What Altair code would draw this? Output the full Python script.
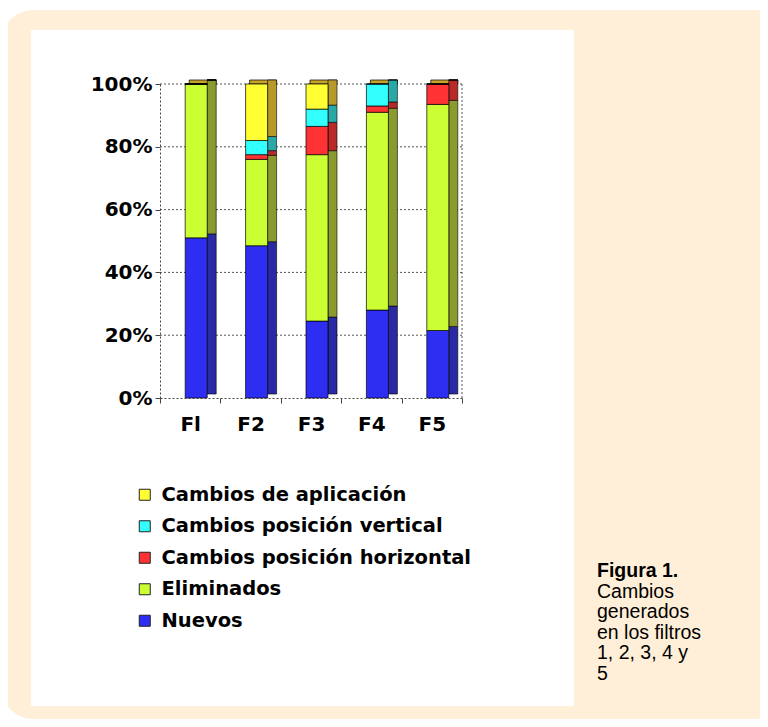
import altair as alt
import pandas as pd

# ---------------- data ----------------
filtros = ["Fl", "F2", "F3", "F4", "F5"]
# stack order, bottom -> top
series = ["Nuevos", "Eliminados", "Cambios posición horizontal",
          "Cambios posición vertical", "Cambios de aplicación"]
nuevos = [51, 48.5, 24.5, 28, 21.5]
eliminados = [49, 27.5, 53, 63, 72]
horizontal = [0, 1.5, 9, 2, 6.5]
vertical = [0, 4.5, 5.5, 7, 0]
aplicacion = [0, 18, 8, 0, 0]

front_colors = ["#2e2ef2", "#ccff33", "#ff3333", "#33ffff", "#ffff33"]
side_colors = ["#2a2aa4", "#8a9a2e", "#b82a2a", "#2aa8a8", "#b89a2a"]
cap_color = "#c9a42c"

y_ticks = [0, 20, 40, 60, 80, 100]
grid_values = [20, 40, 60, 80, 100]

caption_title = "Figura 1."
caption_lines = ["Cambios", "generados", "en los filtros", "1, 2, 3, 4 y", "5"]

# ---------------- tables ----------------
values_by_series = [nuevos, eliminados, horizontal, vertical, aplicacion]
rows = []
for i, f in enumerate(filtros):
    for j, s in enumerate(series):
        rows.append({"filtro": f, "serie": s, "ord": j,
                     "valor": values_by_series[j][i], "lado": side_colors[j]})
df = pd.DataFrame(rows)
totals = pd.DataFrame({"filtro": filtros,
                       "total": [sum(v[i] for v in values_by_series) for i in range(len(filtros))]})
grid_df = pd.DataFrame({"v": grid_values})

legend_order = series[::-1]
legend_colors = front_colors[::-1]

W, H = 302, 314
FONT = "DejaVu Sans"

x_scale = alt.Scale(domain=filtros, paddingInner=0, paddingOuter=0)
y_scale = alt.Scale(domain=[0, 100], nice=False)

x_axis = alt.Axis(title=None, tickBand="extent", labelAngle=0, labelFont=FONT,
                  labelFontSize=20, labelFontWeight="bold", labelColor="black",
                  labelPadding=11, tickSize=5, tickColor="#444", domainColor="#444",
                  domainDash=[2, 2], grid=False, zindex=1)
y_axis = alt.Axis(title=None, values=y_ticks, labelExpr="datum.value + '%'",
                  labelFont=FONT, labelFontSize=20, labelFontWeight="bold",
                  labelColor="black", labelPadding=3, tickSize=5, tickColor="#444",
                  domainColor="#444", domainDash=[2, 2], grid=False, zindex=1)

base = alt.Chart(df).transform_stack(
    stack="valor", groupby=["filtro"], as_=["y0", "y1"],
    sort=[alt.SortField("ord", order="ascending")]
)

X = alt.X("filtro:N", scale=x_scale, axis=x_axis, sort=filtros)

# ---------------- decoration ----------------
one = alt.Data(values=[{"k": 1}])
beige = alt.Chart(one).mark_rect(color="#ffefd8", cornerRadius=34).encode(
    x=alt.value(-160), x2=alt.value(640), y=alt.value(-74), y2=alt.value(635))
white = alt.Chart(one).mark_rect(color="white").encode(
    x=alt.value(-129), x2=alt.value(414), y=alt.value(-54), y2=alt.value(622))

grid = alt.Chart(grid_df).mark_rule(color="#555", strokeDash=[2, 2], strokeWidth=1).encode(
    y=alt.Y("v:Q", scale=y_scale, axis=y_axis), x=alt.value(0), x2=alt.value(W))
right_border = alt.Chart(one).mark_rule(color="#555", strokeDash=[2, 2]).encode(
    x=alt.value(W), y=alt.value(0), y2=alt.value(H))

# ---------------- 3D bars ----------------
cap = alt.Chart(totals).mark_bar(width=27, xOffset=12.5, yOffset=-4, y2Offset=0,
                                 fill=cap_color, stroke="black", strokeWidth=0.7).encode(
    x=X,
    y=alt.Y("total:Q", scale=y_scale, axis=y_axis),
    y2="total:Q")

side = base.mark_bar(width=9, xOffset=21.5, yOffset=-4, y2Offset=-4,
                     stroke="black", strokeWidth=0.6).encode(
    x=X,
    y=alt.Y("y0:Q", scale=y_scale, axis=y_axis),
    y2="y1:Q",
    fill=alt.Fill("lado:N", scale=None))

front = base.mark_bar(width=22, xOffset=6, stroke="black", strokeWidth=0.7).encode(
    x=X,
    y=alt.Y("y0:Q", scale=y_scale, axis=y_axis),
    y2="y1:Q",
    color=alt.Color("serie:N",
                    scale=alt.Scale(domain=legend_order, range=legend_colors),
                    legend=alt.Legend(orient="none", legendX=-25, legendY=401,
                                      title=None, symbolType="square", symbolSize=121,
                                      symbolStrokeColor="#222", symbolStrokeWidth=1,
                                      symbolOpacity=1, labelFont=FONT, labelFontSize=19.5,
                                      labelFontWeight="bold", labelColor="black",
                                      labelOffset=7, rowPadding=10.5, padding=0,
                                      labelLimit=400)))

# ---------------- caption ----------------
cap_title = alt.Chart(one).mark_text(align="left", baseline="alphabetic",
                                     font="Liberation Sans", fontSize=19.5,
                                     fontWeight="bold", color="black").encode(
    x=alt.value(437), y=alt.value(493), text=alt.value(caption_title))
cap_body = alt.Chart(one).mark_text(align="left", baseline="alphabetic",
                                    font="Liberation Sans", fontSize=19.5,
                                    lineHeight=20.5, color="black").encode(
    x=alt.value(437), y=alt.value(513.5), text=alt.value(caption_lines))

chart = alt.layer(beige, white, grid, right_border, cap, side, front, cap_title, cap_body).properties(
    width=W, height=H,
    autosize=alt.AutoSizeParams(type="none"),
    padding={"left": 152, "top": 76, "right": 298, "bottom": 321},
).configure_view(stroke=None).configure(background="white")

chart.save("out.html", embed_options={"renderer": "svg", "actions": False})
